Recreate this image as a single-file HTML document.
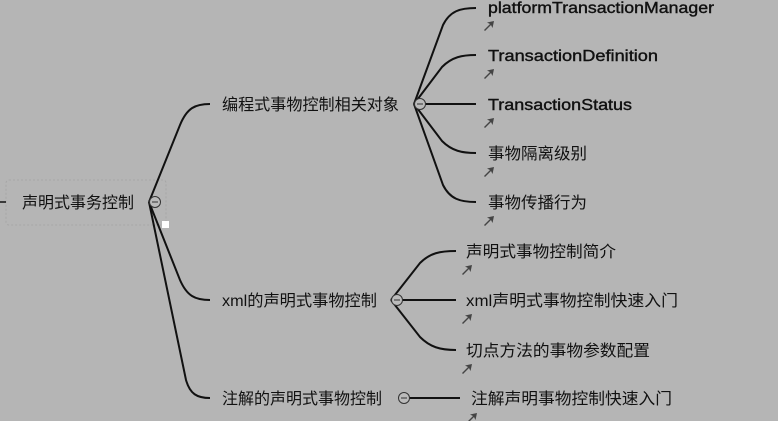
<!DOCTYPE html>
<html><head><meta charset="utf-8"><style>
html,body{margin:0;padding:0;background:#b5b5b5;}
svg{display:block;}
text{font-family:"Liberation Sans","Noto Sans CJK SC",sans-serif;font-size:16px;fill:#111;}
.l{stroke:#111;stroke-width:0.4;}
</style></head><body>
<svg width="778" height="421" viewBox="0 0 778 421" xmlns="http://www.w3.org/2000/svg">
<defs>
<g id="ar"><path d="M0,9 L6,3 L3,1.5 L10,0 L8.5,7 L7,4 L1,10 Z" fill="#444"/></g>
</defs>
<rect x="6" y="180" width="160" height="45" rx="3" fill="none" stroke="#a6a6a6" stroke-dasharray="2,2"/>
<line x1="0" y1="202" x2="6" y2="202" stroke="#111" stroke-width="1.5"/>
<text x="22" y="208">声明式事务控制</text>
<g fill="none" stroke="#111" stroke-width="2">
<path d="M149,202 L180,125 C187,108 195,104 210,104"/>
<path d="M149,202 L180,280 C187,296 195,300 210,300"/>
<path d="M149,202 L186,380 C190,394 197,398 210,398"/>
<path d="M414,104 L443,25 C450,11 460,8 476,8"/>
<path d="M414,104 L442,67 C452,57 462,55 476,55"/>
<path d="M414,104 L476,104"/>
<path d="M414,104 L442,141 C452,151 462,153 476,153"/>
<path d="M414,104 L443,185 C450,199 460,202 476,202"/>
<path d="M391,300 L420,263 C430,253 440,251 456,251"/>
<path d="M391,300 L456,300"/>
<path d="M391,300 L420,337 C430,347 440,350 456,350"/>
<path d="M408,398 L460,398"/>
</g>
<g fill="#bbb" stroke="#333" stroke-width="1">
<circle cx="155" cy="202" r="5.5"/><line x1="152" y1="202" x2="158" y2="202"/>
<circle cx="420" cy="104" r="5.5"/><line x1="417" y1="104" x2="423" y2="104"/>
<circle cx="397" cy="300" r="5.5"/><line x1="394" y1="300" x2="400" y2="300"/>
<circle cx="404" cy="398" r="5.5"/><line x1="401" y1="398" x2="407" y2="398"/>
</g>
<rect x="162" y="221" width="7" height="7" fill="#fff"/>
<text x="222" y="110" textLength="177" lengthAdjust="spacingAndGlyphs">编程式事物控制相关对象</text>
<text x="222" y="306" textLength="155" lengthAdjust="spacingAndGlyphs">xml的声明式事物控制</text>
<text x="222" y="404" textLength="160" lengthAdjust="spacingAndGlyphs">注解的声明式事物控制</text>
<text class="l" x="488" y="13" textLength="226" lengthAdjust="spacingAndGlyphs">platformTransactionManager</text>
<text class="l" x="488" y="61" textLength="170" lengthAdjust="spacingAndGlyphs">TransactionDefinition</text>
<text class="l" x="488" y="110" textLength="144" lengthAdjust="spacingAndGlyphs">TransactionStatus</text>
<text x="488" y="159" textLength="99" lengthAdjust="spacingAndGlyphs">事物隔离级别</text>
<text x="488" y="208" textLength="99" lengthAdjust="spacingAndGlyphs">事物传播行为</text>
<text x="466" y="257" textLength="150" lengthAdjust="spacingAndGlyphs">声明式事物控制简介</text>
<text x="466" y="306" textLength="212" lengthAdjust="spacingAndGlyphs">xml声明式事物控制快速入门</text>
<text x="466" y="356" textLength="184" lengthAdjust="spacingAndGlyphs">切点方法的事物参数配置</text>
<text x="471" y="404" textLength="201" lengthAdjust="spacingAndGlyphs">注解声明事物控制快速入门</text>
<use href="#ar" x="484" y="21"/>
<use href="#ar" x="484" y="69"/>
<use href="#ar" x="484" y="118"/>
<use href="#ar" x="484" y="167"/>
<use href="#ar" x="484" y="216"/>
<use href="#ar" x="462" y="265"/>
<use href="#ar" x="462" y="314"/>
<use href="#ar" x="462" y="364"/>
<use href="#ar" x="467" y="413"/>
</svg>
</body></html>
